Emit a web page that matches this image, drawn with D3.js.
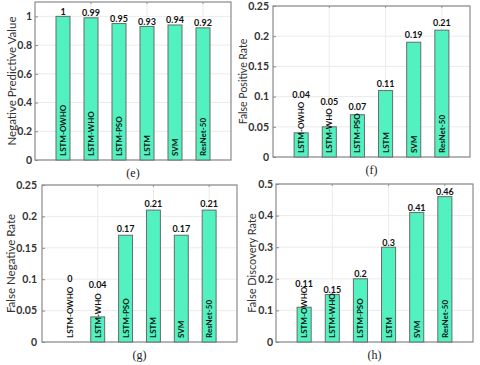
<!DOCTYPE html>
<html>
<head>
<meta charset="utf-8">
<script src="https://cdn.jsdelivr.net/npm/d3@7"></script>
<style>
  body { margin: 0; background: #fff; }
  svg text { font-family: "Lato", "DejaVu Sans", sans-serif; }
</style>
</head>
<body>
<div id="chart"></div>
<script>
// model names, same for every panel
var models = ["LSTM-OWHO", "LSTM-WHO", "LSTM-PSO", "LSTM", "SVM", "ResNet-50"];

// values per metric
var npvValues = [1, 0.99, 0.95, 0.93, 0.94, 0.92];
var fprValues = [0.04, 0.05, 0.07, 0.11, 0.19, 0.21];
var fnrValues = [0, 0.04, 0.17, 0.21, 0.17, 0.21];
var fdrValues = [0.11, 0.15, 0.2, 0.3, 0.41, 0.46];

// value label text as printed on the chart
var npvLabels = ["1", "0.99", "0.95", "0.93", "0.94", "0.92"];
var fprLabels = ["0.04", "0.05", "0.07", "0.11", "0.19", "0.21"];
var fnrLabels = ["0", "0.04", "0.17", "0.21", "0.17", "0.21"];
var fdrLabels = ["0.11", "0.15", "0.2", "0.3", "0.41", "0.46"];

// y ticks
var npvTicks = [0, 0.2, 0.4, 0.6, 0.8, 1];
var rateTicks = [0, 0.05, 0.1, 0.15, 0.2, 0.25];
var fdrTicks = [0, 0.1, 0.2, 0.3, 0.4, 0.5];
var npvTickLabels = ["0", "0.2", "0.4", "0.6", "0.8", "1"];
var rateTickLabels = ["0", "0.05", "0.1", "0.15", "0.2", "0.25"];
var fdrTickLabels = ["0", "0.1", "0.2", "0.3", "0.4", "0.5"];

var svg = d3.select("#chart").append("svg")
    .attr("width", 480)
    .attr("height", 365);

var barColor = "#52f2c0";

function panel(opt) {
    var g = svg.append("g");
    var x = d3.scaleLinear().domain([0, 7]).range([opt.left, opt.right]);
    var y = d3.scaleLinear().domain([0, opt.ymax]).range([opt.bottom, opt.top]);

    // grid
    g.selectAll(".hgrid").data(opt.ticks).enter().append("line")
        .attr("x1", opt.left).attr("x2", opt.right)
        .attr("y1", function(d) { return y(d); })
        .attr("y2", function(d) { return y(d); })
        .attr("stroke", "#ebebeb");
    g.selectAll(".vgrid").data([2, 4, 6]).enter().append("line")
        .attr("x1", function(d) { return x(d); })
        .attr("x2", function(d) { return x(d); })
        .attr("y1", opt.top).attr("y2", opt.bottom)
        .attr("stroke", "#ebebeb");

    // y axis with inner ticks
    var yAxis = d3.axisLeft(y)
        .tickValues(opt.ticks)
        .tickSize(-3)
        .tickPadding(opt.pad)
        .tickFormat(function(d, i) { return opt.tickLabels[i]; });
    var gy = g.append("g")
        .attr("transform", "translate(" + opt.left + ",0)")
        .call(yAxis);
    gy.select(".domain").remove();
    gy.selectAll("line").attr("stroke", "#888");
    gy.selectAll("text")
        .attr("font-size", 10.5)
        .attr("font-weight", "bold")
        .attr("fill", "#333");

    // top x ticks
    g.selectAll(".xt").data([2, 4, 6]).enter().append("line")
        .attr("x1", function(d) { return x(d); })
        .attr("x2", function(d) { return x(d); })
        .attr("y1", opt.top).attr("y2", opt.top + 2)
        .attr("stroke", "#999");

    // frame
    g.append("rect")
        .attr("x", opt.left).attr("y", opt.top)
        .attr("width", opt.right - opt.left)
        .attr("height", opt.bottom - opt.top)
        .attr("fill", "none")
        .attr("stroke", "#8a8a8a")
        .attr("stroke-width", 1.2);

    var bw = x(0.5) - x(0);
    var bars = g.selectAll(".bar").data(opt.values).enter().append("g");

    bars.append("rect")
        .attr("x", function(d, i) { return x(i + 1) - bw / 2; })
        .attr("y", function(d) { return y(d); })
        .attr("width", bw)
        .attr("height", function(d) { return opt.bottom - y(d); })
        .attr("fill", barColor)
        .attr("stroke", "#6a6a6a")
        .attr("stroke-width", 1);

    // rotated model names inside the bars
    var names = bars.append("text")
        .attr("transform", function(d, i) {
            return "translate(" + (x(i + 1) + 3) + "," + (opt.bottom - 4) + ") rotate(-90)";
        })
        .attr("font-size", 8)
        .attr("font-weight", "bold")
        .attr("fill", "#111")
        .text(function(d, i) { return models[i]; });

    // value labels above bar or name, whichever is higher
    bars.append("text")
        .attr("x", function(d, i) { return x(i + 1); })
        .attr("y", function(d, i) {
            var len = names.nodes()[i].getComputedTextLength();
            var textTop = opt.bottom - 4 - len;
            var top = y(d);
            return textTop < top ? textTop + opt.nameGap : top - opt.gap;
        })
        .attr("text-anchor", "middle")
        .attr("font-size", 9)
        .attr("font-weight", "bold")
        .attr("fill", "#111")
        .text(function(d, i) { return opt.labels[i]; });

    // axis title
    svg.append("text")
        .attr("transform", "translate(" + opt.titleX + "," + ((opt.top + opt.bottom) / 2) + ") rotate(-90)")
        .attr("text-anchor", "middle")
        .attr("font-size", opt.titleSize)
        .attr("fill", "#333")
        .text(opt.title);

    // sub caption
    svg.append("text")
        .attr("x", (opt.left + opt.right) / 2)
        .attr("y", opt.bottom + 17)
        .attr("text-anchor", "middle")
        .style("font-family", "'Liberation Serif', serif")
        .attr("font-size", 12)
        .attr("fill", "#222")
        .text(opt.caption);
}

panel({ left: 35, right: 231, top: 2, bottom: 160, ymax: 1.1,
    values: npvValues, labels: npvLabels, ticks: npvTicks, tickLabels: npvTickLabels,
    title: "Negative Predictive Value", titleX: 16, titleSize: 11.5, caption: "(e)",
    gap: 1.5, nameGap: 0, pad: 3 });

panel({ left: 273, right: 470, top: 6, bottom: 157, ymax: 0.25,
    values: fprValues, labels: fprLabels, ticks: rateTicks, tickLabels: rateTickLabels,
    title: "False Positive Rate", titleX: 247, titleSize: 10.5, caption: "(f)",
    gap: 4, nameGap: -3.5, pad: 4 });

panel({ left: 42, right: 237, top: 185, bottom: 342, ymax: 0.25,
    values: fnrValues, labels: fnrLabels, ticks: rateTicks, tickLabels: rateTickLabels,
    title: "False Negative Rate", titleX: 15, titleSize: 11.5, caption: "(g)",
    gap: 3.5, nameGap: -5, pad: 5 });

panel({ left: 276, right: 473, top: 184, bottom: 342, ymax: 0.5,
    values: fdrValues, labels: fdrLabels, ticks: fdrTicks, tickLabels: fdrTickLabels,
    title: "False Discovery Rate", titleX: 256, titleSize: 11, caption: "(h)",
    gap: 1.5, nameGap: 0, pad: 3 });
</script>
</body>
</html>
